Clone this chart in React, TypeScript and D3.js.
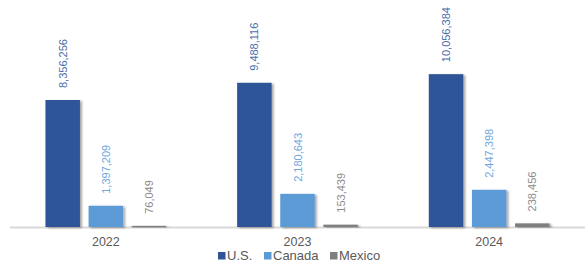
import React from "react";
import * as d3 from "d3";

const years = ["2022", "2023", "2024"];
const seriesNames = ["U.S.", "Canada", "Mexico"];
const usValues = [8356256, 9488116, 10056384];
const canadaValues = [1397209, 2180643, 2447398];
const mexicoValues = [76049, 153439, 238456];

const barColors = ["#2F5597", "#5B9BD5", "#7F7F7F"];
const labelColors = ["#4A6DAA", "#6FA8DC", "#8C8C8C"];

const W = 586;
const H = 265;
const baseY = 227;

export default function App() {
  const series = [usValues, canadaValues, mexicoValues];
  const x0 = d3.scaleBand<string>().domain(years).range([10, 585]).paddingInner(0.37).paddingOuter(0.185);
  const x1 = d3.scaleBand<string>().domain(seriesNames).range([0, x0.bandwidth()]).paddingInner(0.2);
  const y = d3.scaleLinear().domain([0, 8356256]).range([baseY, 100]);
  const fmt = d3.format(",");

  const legendItems = [
    { name: "U.S.", x: 218 },
    { name: "Canada", x: 264 },
    { name: "Mexico", x: 330 },
  ];

  return (
    <svg width={W} height={H} style={{ position: "absolute", left: 0, top: 0, fontFamily: "'Liberation Sans', Arial, sans-serif" }}>
      <defs>
        <filter id="sh" x="-20%" y="-20%" width="150%" height="140%">
          <feDropShadow dx="2" dy="1" stdDeviation="1.2" floodColor="#000" floodOpacity="0.35" />
        </filter>
      </defs>
      <rect width={W} height={H} fill="#fff" />
      <line x1={10} x2={585} y1={baseY + 0.5} y2={baseY + 0.5} stroke="#D9D9D9" strokeWidth={2} />
      {years.map((yr, i) => (
        <g key={yr} transform={`translate(${x0(yr)},0)`}>
          {seriesNames.map((s, j) => {
            const v = series[j][i];
            const bx = x1(s)!;
            const top = y(v);
            const cx = bx + x1.bandwidth() / 2;
            return (
              <g key={s}>
                <rect x={bx} y={top} width={x1.bandwidth()} height={Math.max(baseY - top, 1.5)} fill={barColors[j]} filter="url(#sh)" />
                <text
                  transform={`translate(${cx + 4},${top - 12}) rotate(-90)`}
                  fontSize={11}
                  fill={labelColors[j]}
                  textAnchor="start"
                >
                  {fmt(v)}
                </text>
              </g>
            );
          })}
          <text x={x0.bandwidth() / 2} y={246} textAnchor="middle" fontSize={12.5} fill="#595959">
            {yr}
          </text>
        </g>
      ))}
      {legendItems.map((it, j) => (
        <g key={it.name}>
          <rect x={it.x} y={252} width={7.5} height={7.5} fill={barColors[j]} />
          <text x={it.x + 9} y={260} fontSize={13} fill="#595959">
            {it.name}
          </text>
        </g>
      ))}
    </svg>
  );
}
